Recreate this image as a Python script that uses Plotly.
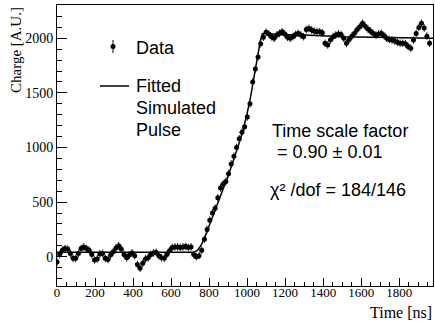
import numpy as np
import plotly.graph_objects as go

# Data
time_step = 14.1
charge = [
    -48, 20, 60, 75, 70, 30, -15, -15, 30, 75,
    90, 75, 60, 20, -30, -20, 25, 30, -15, -25,
    15, 45, 80, 100, 70, 20, -10, 15, 35, 10,
    -70, -105, -60, -20, -10, 20, 35, 40, 10, -10,
    -15, 20, 55, 85, 90, 90, 85, 90, 95, 85,
    90, 20, 0, 10, 60, 160, 250, 335, 400, 445,
    540, 630, 665, 690, 760, 850, 920, 1000, 1080, 1140,
    1190, 1280, 1400, 1600, 1720, 1830, 1950, 2010, 2055, 2040,
    2015, 2000, 2030, 2046, 2060, 2040, 2010, 2000, 2015, 2035,
    2046, 2030, 2015, 2080, 2090, 2076, 2065, 2061, 2060, 2050,
    1954, 1939, 1984, 2015, 2030, 2040, 2035, 2000, 1954, 1990,
    2020, 2046, 2080, 2106, 2137, 2110, 2085, 2065, 2045, 2030,
    2040, 2046, 2025, 2000, 1990, 1984, 1975, 1965, 1955, 1955,
    1950, 1925, 1910, 1985, 2045, 2100, 2137, 2095, 2020, 1955,
]
charge_err = 35
time_err = 6

# Fitted simulated pulse
fit_time = [0, 700, 720, 740, 760, 780, 800, 820, 840, 860, 880, 900, 920, 940,
            960, 980, 1000, 1020, 1040, 1060, 1070, 1080, 1100, 1150, 1300,
            1500, 1700, 1980]
fit_charge = [40, 40, 40, 60, 110, 190, 280, 370, 460, 560, 650, 740, 840, 940,
              1050, 1170, 1310, 1480, 1680, 1880, 1980, 2040, 2050, 2035, 2030,
              2015, 2010, 2000]

x_range = [0, 1978]
y_range = [-268, 2305]
x_ticks = [0, 200, 400, 600, 800, 1000, 1200, 1400, 1600, 1800]
y_ticks = [0, 500, 1000, 1500, 2000]

t = np.arange(len(charge)) * time_step

fig = go.Figure()
fig.add_trace(go.Scatter(
    x=fit_time, y=fit_charge, mode="lines",
    line=dict(color="black", width=1.5), showlegend=False, hoverinfo="skip"))
fig.add_trace(go.Scatter(
    x=t, y=charge, mode="markers",
    marker=dict(color="black", size=5),
    error_y=dict(type="constant", value=charge_err, color="#222", thickness=1, width=0),
    error_x=dict(type="constant", value=time_err, color="#222", thickness=1, width=0),
    showlegend=False))

W, H = 435, 321
L, R, T, B = 57, 2, 5, 35
pw, ph = W - L - R, H - T - B


def px(x):
    return (x - L) / pw


def py(y):
    return (H - B - y) / ph


sans = "Liberation Sans, Arial, sans-serif"
serif = "Liberation Serif"

ann = []
def txt(text, x, y, size=18, xanchor="left", font=sans, **kw):
    ann.append(dict(text=text, x=px(x), y=py(y), xref="paper", yref="paper",
                    showarrow=False, xanchor=xanchor, yanchor="middle",
                    font=dict(family=font, size=size, color="black"), **kw))

txt("Data", 134, 48)
txt("Fitted", 134, 86)
txt("Simulated", 134, 108)
txt("Pulse", 134, 130)
txt("Time scale factor", 270, 131)
txt(" = 0.90 ± 0.01", 270, 152)
txt("χ² /dof = 184/146", 268, 190)
txt("Time [ns]", 434, 312, size=16, xanchor="right", font=serif)
ann.append(dict(text="Charge [A.U.]", x=px(16), y=1.0, xref="paper", yref="paper",
                showarrow=False, textangle=-90, xanchor="center", yanchor="top",
                font=dict(family=serif, size=15, color="black")))

shapes = [
    dict(type="line", xref="paper", yref="paper", x0=px(100), x1=px(129),
         y0=py(86), y1=py(86), line=dict(color="black", width=1.5)),
    dict(type="line", xref="paper", yref="paper", x0=px(113), x1=px(113),
         y0=py(40), y1=py(53), line=dict(color="black", width=1)),
    dict(type="circle", xref="paper", yref="paper", x0=px(110.5), x1=px(115.5),
         y0=py(49), y1=py(44), fillcolor="black", line=dict(color="black", width=0)),
]

axis_common = dict(showgrid=False, zeroline=False, showline=True, mirror=True,
                   linecolor="black", linewidth=1, ticks="inside",
                   tickcolor="black", tickwidth=1)

fig.update_layout(
    width=W, height=H, margin=dict(l=L, r=R, t=T, b=B),
    plot_bgcolor="white", paper_bgcolor="white",
    xaxis=dict(range=x_range, tickvals=x_ticks, ticklen=8, ticklabelstandoff=-6,
               tickfont=dict(family=serif, size=13, color="black"),
               minor=dict(ticks="inside", dtick=50, tick0=0, ticklen=4,
                          tickcolor="black"), **axis_common),
    yaxis=dict(range=y_range, tickvals=y_ticks, ticklen=10,
               tickfont=dict(family=serif, size=14, color="black"),
               minor=dict(ticks="inside", dtick=100, tick0=0, ticklen=5,
                          tickcolor="black"), **axis_common),
    annotations=ann, shapes=shapes, showlegend=False,
)

fig.write_html("out.html")
